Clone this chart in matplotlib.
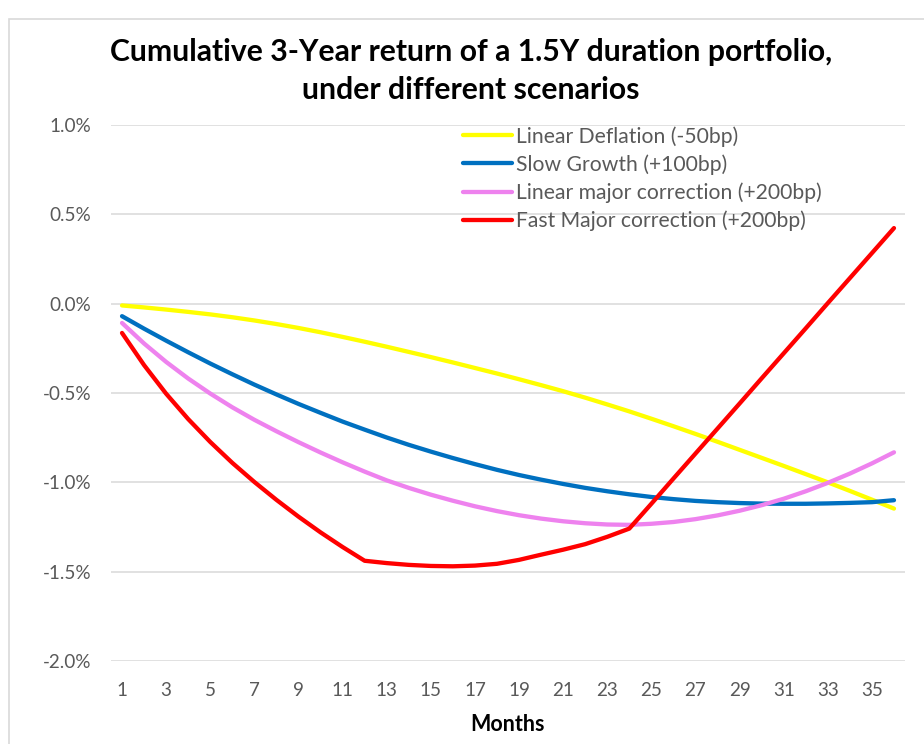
import matplotlib
matplotlib.use("Agg")
import matplotlib.pyplot as plt
from matplotlib.patches import Rectangle
from matplotlib.ticker import FuncFormatter

plt.rcParams['font.family'] = ['Lato', 'DejaVu Sans']

months = list(range(1, 37))

# cumulative return in %
linear_deflation = [-0.010, -0.021, -0.033, -0.046, -0.060, -0.076, -0.094, -0.114, -0.136,
                    -0.160, -0.186, -0.213, -0.241, -0.270, -0.299, -0.329, -0.360, -0.391,
                    -0.423, -0.456, -0.490, -0.526, -0.564, -0.603, -0.644, -0.686, -0.729,
                    -0.773, -0.818, -0.863, -0.908, -0.954, -1.000, -1.048, -1.097, -1.147]

slow_growth = [-0.070, -0.140, -0.207, -0.272, -0.335, -0.395, -0.453, -0.508, -0.561,
               -0.611, -0.660, -0.705, -0.749, -0.790, -0.828, -0.864, -0.898, -0.930,
               -0.959, -0.985, -1.009, -1.031, -1.050, -1.067, -1.082, -1.094, -1.104,
               -1.111, -1.116, -1.119, -1.120, -1.120, -1.118, -1.115, -1.111, -1.100]

linear_major = [-0.108, -0.223, -0.326, -0.419, -0.503, -0.580, -0.650, -0.714, -0.775,
                -0.833, -0.888, -0.940, -0.989, -1.031, -1.069, -1.103, -1.134, -1.161,
                -1.184, -1.203, -1.218, -1.229, -1.236, -1.238, -1.232, -1.222, -1.206,
                -1.185, -1.159, -1.128, -1.092, -1.050, -1.003, -0.951, -0.894, -0.832]

fast_major = [-0.164, -0.344, -0.504, -0.646, -0.774, -0.891, -0.998, -1.098, -1.192,
              -1.280, -1.362, -1.439, -1.452, -1.462, -1.468, -1.470, -1.466, -1.456,
              -1.434, -1.405, -1.377, -1.346, -1.305, -1.259, -1.120, -0.979, -0.839,
              -0.699, -0.559, -0.418, -0.278, -0.138, 0.003, 0.143, 0.283, 0.423]

series = [
    ("Linear Deflation (-50bp)", linear_deflation, "#FFFF00"),
    ("Slow Growth (+100bp)", slow_growth, "#0070C0"),
    ("Linear major correction (+200bp)", linear_major, "#EE82EE"),
    ("Fast Major correction (+200bp)", fast_major, "#FF0000"),
]

W, H = 924, 744
fig = plt.figure(figsize=(W / 100, H / 100), dpi=100)
fig.patch.set_facecolor("white")

# chart area border (cut off at right / bottom like the screenshot)
fig.patches.append(Rectangle((9 / W, -0.1), 1.2, 1.1 - 19.5 / H, transform=fig.transFigure,
                             fill=False, edgecolor="#D9D9D9", linewidth=1.2))

ax = fig.add_axes([111 / W, 1 - 661 / H, (905 - 111) / W, (661 - 125) / H])

for name, vals, col in series:
    ax.plot(months, vals, color=col, linewidth=3.1, label=name, solid_capstyle="round")

ax.set_xlim(0.5, 36.5)
ax.set_ylim(-2.0, 1.0)
ax.set_yticks([-2.0, -1.5, -1.0, -0.5, 0.0, 0.5, 1.0])
ax.yaxis.set_major_formatter(FuncFormatter(lambda v, p: "%.1f%%" % v))
ax.set_xticks(months[::2])
ax.grid(axis="y", color="#D9D9D9", linewidth=1.1)
ax.set_axisbelow(True)
for s in ax.spines.values():
    s.set_visible(False)
ax.tick_params(axis="both", length=0, labelcolor="#595959", labelsize=13.6)
ax.tick_params(axis="y", pad=14)
ax.tick_params(axis="x", pad=15)

ax.set_xlabel("Months", fontsize=15.5, fontweight="bold", color="black", labelpad=11)

fig.text(471 / W, 1 - 52 / H, "Cumulative 3-Year return of a 1.5Y duration portfolio,",
         ha="center", va="center", fontsize=21.7, fontweight="bold")
fig.text(471 / W, 1 - 90 / H, "under different scenarios",
         ha="center", va="center", fontsize=21.7, fontweight="bold")

leg = ax.legend(loc="upper left", bbox_to_anchor=(463 / W, 1 - 126 / H),
                bbox_transform=fig.transFigure, frameon=False, fontsize=15.2,
                handlelength=2.3, handletextpad=0.2, labelspacing=0.36,
                borderpad=0, borderaxespad=0)
for t in leg.get_texts():
    t.set_color("#595959")

fig.savefig("out.png", dpi=100)
